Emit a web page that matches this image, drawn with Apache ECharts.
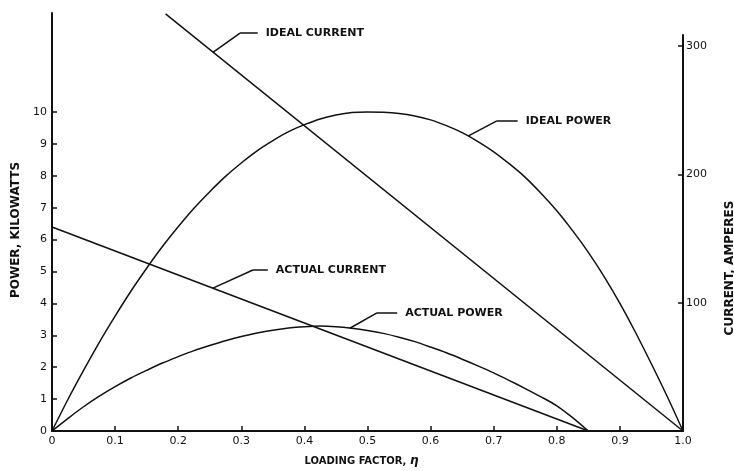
<!DOCTYPE html>
<html>
<head>
<meta charset="utf-8">
<script src="https://cdn.jsdelivr.net/npm/echarts@6/dist/echarts.min.js"></script>
<style>
  html, body { margin: 0; padding: 0; background: #fff; }
  #chart { width: 734px; height: 471px; }
</style>
</head>
<body>
<div id="chart"></div>
<script>
// Loading factor (eta) sample points, 0 to 1 in steps of 0.025
const eta = [0, 0.025, 0.05, 0.075, 0.1, 0.125, 0.15, 0.175, 0.2, 0.225,
             0.25, 0.275, 0.3, 0.325, 0.35, 0.375, 0.4, 0.425, 0.45, 0.475,
             0.5, 0.525, 0.55, 0.575, 0.6, 0.625, 0.65, 0.675, 0.7, 0.725,
             0.75, 0.775, 0.8, 0.825, 0.85, 0.875, 0.9, 0.925, 0.95, 0.975, 1.0];

// Power, kilowatts
const idealPower = [0, 0.98, 1.9, 2.78, 3.6, 4.38, 5.1, 5.78, 6.4, 6.98,
                    7.5, 7.98, 8.4, 8.78, 9.1, 9.38, 9.6, 9.78, 9.9, 9.98,
                    10.0, 9.99, 9.95, 9.87, 9.75, 9.57, 9.35, 9.07, 8.75, 8.37,
                    7.95, 7.45, 6.9, 6.28, 5.6, 4.84, 4.0, 3.08, 2.1, 1.08, 0];
const actualPower = [0, 0.39, 0.76, 1.09, 1.39, 1.66, 1.9, 2.13, 2.33, 2.52,
                     2.68, 2.83, 2.96, 3.07, 3.16, 3.23, 3.27, 3.29, 3.27, 3.22,
                     3.15, 3.06, 2.94, 2.8, 2.63, 2.45, 2.25, 2.04, 1.82, 1.58,
                     1.33, 1.07, 0.79, 0.42, 0];

// Current, amperes
const idealCurrentEta = [0.18, 1.0];
const idealCurrent = [325, 0];
const actualCurrentEta = [0, 0.85];
const actualCurrent = [159, 0];

// Axis tick labels
const xTicks = [0, 0.1, 0.2, 0.3, 0.4, 0.5, 0.6, 0.7, 0.8, 0.9, 1.0];
const powerTicks = [0, 1, 2, 3, 4, 5, 6, 7, 8, 9, 10];
const currentTicks = [100, 200, 300];

// Curve names
const names = ['IDEAL CURRENT', 'IDEAL POWER', 'ACTUAL CURRENT', 'ACTUAL POWER'];

const pairs = (xs, ys) => ys.map((y, i) => [xs[i], y]);

const INK = '#111';
const FONT = 'DejaVu Sans';
const curveStyle = { color: INK, width: 1.5 };

// Plot frame (px) shared by both grids; the current scale is drawn on a
// shorter right-hand axis, so the two current ranges are kept proportional.
const FRAME = { left: 52, right: 51, bottom: 40 };
const PLOT_TOP = 13, CURRENT_AXIS_TOP = 35, PLOT_BOTTOM_PX = 471 - FRAME.bottom;
const CURRENT_AXIS_MAX = 308.6;
const CURRENT_PLOT_MAX = CURRENT_AXIS_MAX * (PLOT_BOTTOM_PX - PLOT_TOP) / (PLOT_BOTTOM_PX - CURRENT_AXIS_TOP);

// Leader line: tip on the curve -> elbow -> end of horizontal stroke, text after it
function leader(tip, elbow, end, text) {
  return {
    silent: true,
    symbol: ['none', 'none'],
    lineStyle: { color: INK, width: 1.5, type: 'solid' },
    label: { show: false },
    emphasis: { disabled: true },
    data: [
      [{ coord: tip }, { coord: elbow }],
      [{ coord: elbow }, {
        coord: end,
        label: {
          show: true, position: 'end', distance: 8, formatter: text,
          color: INK, fontFamily: FONT, fontSize: 11, fontWeight: 'bold'
        }
      }]
    ]
  };
}

const axisLine = { show: true, onZero: false, lineStyle: { color: INK, width: 2 } };
const tickStyle = { show: true, inside: true, length: 5, lineStyle: { color: INK, width: 1.5 } };
const labelFont = { color: INK, fontFamily: FONT, fontSize: 11 };

const chart = echarts.init(document.getElementById('chart'), null, { renderer: 'canvas' });

chart.setOption({
  animation: false,
  backgroundColor: '#fff',
  grid: [
    Object.assign({ top: PLOT_TOP, outerBoundsMode: 'none', containLabel: false }, FRAME),
    Object.assign({ top: CURRENT_AXIS_TOP, outerBoundsMode: 'none', containLabel: false }, FRAME)
  ],
  xAxis: [
    {
      type: 'value', gridIndex: 0, min: 0, max: 1, interval: 0.1,
      axisLine: axisLine,
      axisTick: Object.assign({}, tickStyle, { customValues: xTicks }),
      axisLabel: Object.assign({}, labelFont, {
        margin: 5,
        customValues: xTicks,
        formatter: v => (v === 0 ? '0' : v.toFixed(1))
      }),
      splitLine: { show: false },
      name: 'LOADING FACTOR, {e|η}',
      nameLocation: 'middle',
      nameGap: 24,
      nameTextStyle: {
        color: INK, fontFamily: FONT, fontSize: 10, fontWeight: 'bold',
        padding: [0, 12, 0, 0],
        rich: { e: { fontFamily: FONT, fontSize: 12, fontStyle: 'italic', color: INK } }
      }
    },
    {
      type: 'value', gridIndex: 1, min: 0, max: 1, show: false
    }
  ],
  yAxis: [
    {
      type: 'value', gridIndex: 0, position: 'left', min: 0, max: 13.1,
      axisLine: axisLine,
      axisTick: Object.assign({}, tickStyle, { customValues: powerTicks }),
      axisLabel: Object.assign({}, labelFont, { margin: 5, customValues: powerTicks }),
      splitLine: { show: false },
      name: 'POWER, KILOWATTS',
      nameLocation: 'middle',
      nameRotate: 90,
      nameGap: 27,
      nameTextStyle: { color: INK, fontFamily: FONT, fontSize: 12, fontWeight: 'bold', padding: [0, 16, 0, 0] }
    },
    {
      // visible current scale, 0 at the x axis, top at 308.6 A
      type: 'value', gridIndex: 1, position: 'right', min: 0, max: CURRENT_AXIS_MAX,
      axisLine: axisLine,
      axisTick: Object.assign({}, tickStyle, { customValues: currentTicks }),
      axisLabel: Object.assign({}, labelFont, { margin: 3, customValues: currentTicks }),
      splitLine: { show: false },
      name: 'CURRENT, AMPERES',
      nameLocation: 'middle',
      nameRotate: 90,
      nameGap: 41,
      nameTextStyle: { color: INK, fontFamily: FONT, fontSize: 12, fontWeight: 'bold', padding: [0, 70, 0, 0] }
    },
    {
      // same current scale stretched over the full plot height, used by the current curves
      type: 'value', gridIndex: 0, position: 'right', min: 0, max: CURRENT_PLOT_MAX, show: false
    }
  ],
  series: [
    {
      name: names[0], type: 'line', xAxisIndex: 0, yAxisIndex: 2,
      data: pairs(idealCurrentEta, idealCurrent),
      showSymbol: false, lineStyle: curveStyle,
      markLine: leader([0.255, 295], [0.298, 310], [0.326, 310], names[0])
    },
    {
      name: names[1], type: 'line', xAxisIndex: 0, yAxisIndex: 0,
      data: pairs(eta, idealPower),
      showSymbol: false, smooth: 0.3, lineStyle: curveStyle,
      markLine: leader([0.66, 9.25], [0.705, 9.72], [0.738, 9.72], names[1])
    },
    {
      name: names[2], type: 'line', xAxisIndex: 0, yAxisIndex: 2,
      data: pairs(actualCurrentEta, actualCurrent),
      showSymbol: false, lineStyle: curveStyle,
      markLine: leader([0.255, 111.3], [0.3185, 125.5], [0.342, 125.5], names[2])
    },
    {
      name: names[3], type: 'line', xAxisIndex: 0, yAxisIndex: 0,
      data: pairs(eta.slice(0, actualPower.length), actualPower),
      showSymbol: false, smooth: 0.3, lineStyle: curveStyle,
      markLine: leader([0.472, 3.22], [0.515, 3.7], [0.547, 3.7], names[3])
    }
  ]
});
</script>
</body>
</html>
